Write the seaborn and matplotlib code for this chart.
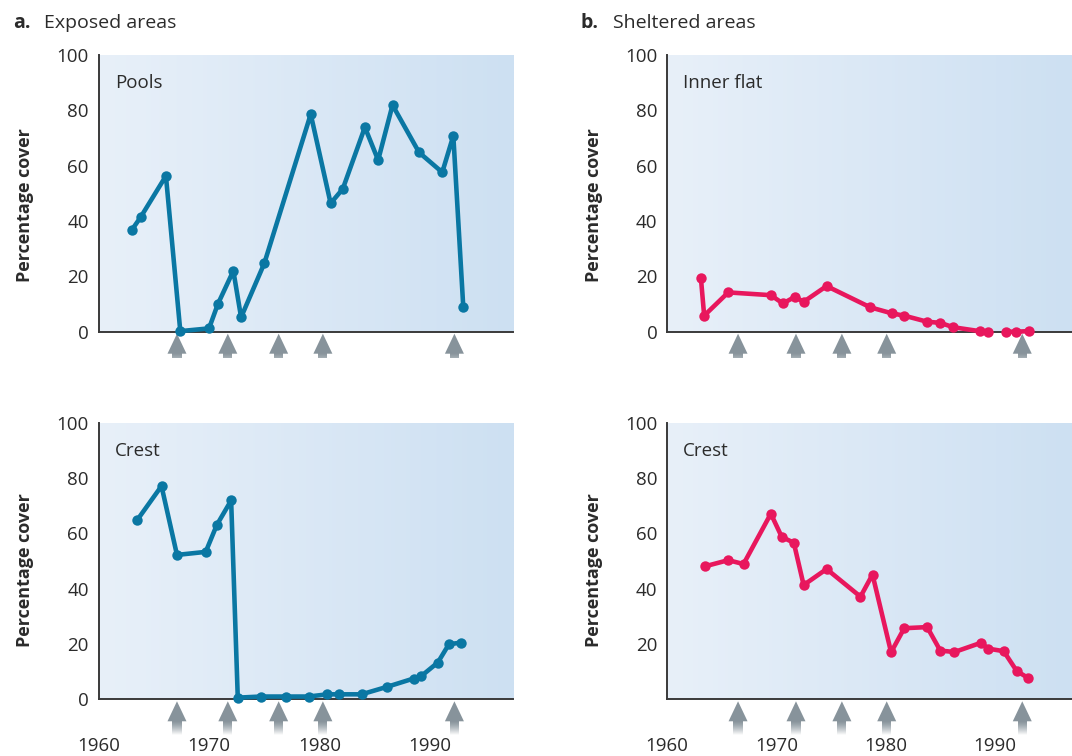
import numpy as np
import pandas as pd
import matplotlib
matplotlib.use("Agg")
import matplotlib.pyplot as plt
import matplotlib.transforms as mtransforms
import seaborn as sns

# ---------------- data ----------------
pools_years = [1963.0, 1963.8, 1966.1, 1967.4, 1970.0, 1970.8, 1972.2, 1972.9, 1975.0,
               1979.2, 1981.0, 1982.1, 1984.1, 1985.3, 1986.6, 1989.0, 1991.1, 1992.1, 1993.0]
pools_cover = [36.7, 41.3, 56.3, 0.2, 1.2, 10.0, 22.0, 5.2, 24.7,
               78.6, 46.4, 51.6, 73.9, 62.0, 81.9, 64.8, 57.6, 70.8, 9.0]

crest_a_years = [1963.5, 1965.7, 1967.1, 1969.7, 1970.7, 1972.0, 1972.6, 1974.7, 1977.0,
                 1979.0, 1980.7, 1981.8, 1983.8, 1986.1, 1988.5, 1989.2, 1990.7, 1991.7, 1992.8]
crest_a_cover = [64.8, 77.1, 52.2, 53.3, 63.0, 71.9, 0.6, 1.0, 1.0,
                 1.0, 1.8, 1.8, 1.8, 4.5, 7.5, 8.4, 13.3, 19.9, 20.5]

inner_years_1 = [1963.1, 1963.4, 1965.6, 1969.5, 1970.6, 1971.7, 1972.5, 1974.6, 1978.6,
                 1980.6, 1981.7, 1983.8, 1985.0, 1986.2, 1988.6, 1989.4]
inner_cover_1 = [19.5, 5.8, 14.2, 13.2, 10.2, 12.6, 10.8, 16.5, 8.8,
                 6.6, 5.8, 3.6, 3.2, 1.6, 0.2, 0.0]
inner_years_2 = [1991.0, 1991.9, 1993.1]
inner_cover_2 = [0.0, 0.0, 0.2]

crest_b_years = [1963.5, 1965.6, 1967.0, 1969.5, 1970.5, 1971.6, 1972.5, 1974.6, 1977.7,
                 1978.8, 1980.5, 1981.7, 1983.8, 1985.0, 1986.3, 1988.7, 1989.4, 1990.8,
                 1992.0, 1993.0]
crest_b_cover = [48.1, 50.3, 48.9, 67.1, 58.7, 56.6, 41.3, 47.1, 37.1,
                 45.1, 17.0, 25.7, 26.1, 17.6, 17.1, 20.4, 18.3, 17.4,
                 10.2, 7.8]

arrows_a = [1967.1, 1971.7, 1976.3, 1980.3, 1992.2]
arrows_b = [1966.5, 1971.8, 1976.0, 1980.1, 1992.5]

y_ticks = [0, 20, 40, 60, 80, 100]
x_ticks = [1960, 1970, 1980, 1990]

BLUE = "#0a77a3"
PINK = "#e8175d"
ARROW = "#87939b"
TEXT = "#2b2b2b"
SPINE = "#3a3a3a"

W, H = 1072, 756
sns.set_style("white")
plt.rcParams['font.family'] = ['Open Sans', 'DejaVu Sans']

fig = plt.figure(figsize=(W / 100, H / 100), dpi=100)


def px_rect(l, t, r, b):
    return [l / W, 1 - b / H, (r - l) / W, (b - t) / H]


grad = np.linspace(0, 1, 256)[None, :, None]
c_left = np.array([232, 240, 249]) / 255
c_right = np.array([205, 224, 242]) / 255
grad_img = c_left[None, None, :] * (1 - grad) + c_right[None, None, :] * grad


def style_axes(ax, xlim, show_xlabels, ylabels=None):
    ax.imshow(grad_img, extent=(0, 1, 0, 1), transform=ax.transAxes,
              aspect="auto", zorder=0, interpolation="bilinear")
    ax.set_facecolor("white")
    for s in ["top", "right"]:
        ax.spines[s].set_visible(False)
    for s in ["left", "bottom"]:
        ax.spines[s].set_color(SPINE)
        ax.spines[s].set_linewidth(1.4)
    ax.set_xlim(*xlim)
    ax.set_ylim(0, 100)
    ax.set_xticks(x_ticks)
    ax.set_yticks(y_ticks)
    if ylabels is not None:
        ax.set_yticklabels(ylabels)
    ax.tick_params(axis="both", direction="in", length=4.5, width=1.2,
                   color=SPINE, labelcolor=TEXT, labelsize=13.5)
    ax.tick_params(axis="y", pad=7)
    ax.tick_params(axis="x", pad=27, labelbottom=show_xlabels)
    ax.set_xlabel("")
    ax.set_ylabel("")


def draw_arrows(ax, years):
    fig.canvas.draw()
    bb = ax.get_window_extent()
    x0, x1 = ax.get_xlim()
    ppy = bb.width / (x1 - x0)
    hpx = bb.height
    trans = mtransforms.blended_transform_factory(ax.transData, ax.transAxes)
    tip = -2.0 / hpx
    base = -22.0 / hpx
    end = -36.0 / hpx
    hw = 9.5 / ppy
    sw = 4.6 / ppy
    arrow_rgb = np.array(matplotlib.colors.to_rgb(ARROW))
    for yr in years:
        ax.fill([yr - hw, yr + hw, yr], [base, base, tip], transform=trans,
                color=ARROW, clip_on=False, lw=0, zorder=1)
        n = 14
        edges = np.linspace(base + 0.3 / hpx, end, n + 1)
        for i in range(n):
            f = (i + 0.5) / n
            col = arrow_rgb * (1 - f ** 1.3) + np.ones(3) * f ** 1.3
            ax.fill([yr - sw, yr + sw, yr + sw, yr - sw],
                    [edges[i], edges[i], edges[i + 1] + 0.2 / hpx, edges[i + 1] + 0.2 / hpx],
                    transform=trans, color=col, clip_on=False, lw=0, zorder=1)


line_kw = dict(lw=3.3, marker="o", markersize=7.5, markeredgewidth=0,
               clip_on=False, estimator=None, sort=False, zorder=3)

# ---------------- axes ----------------
ax_a1 = fig.add_axes(px_rect(98.5, 55, 513, 331.7))
ax_a2 = fig.add_axes(px_rect(98.5, 422.7, 513, 699.3))
ax_b1 = fig.add_axes(px_rect(667, 55, 1072, 331.7))
ax_b2 = fig.add_axes(px_rect(667, 422.7, 1072, 699.3))

xlim_a = (1960, 1997.5)
xlim_b = (1960, 1997.05)

sns.lineplot(x=pools_years, y=pools_cover, ax=ax_a1, color=BLUE, **line_kw)
sns.lineplot(x=crest_a_years, y=crest_a_cover, ax=ax_a2, color=BLUE, **line_kw)
sns.lineplot(x=inner_years_1, y=inner_cover_1, ax=ax_b1, color=PINK, **line_kw)
sns.lineplot(x=inner_years_2, y=inner_cover_2, ax=ax_b1, color=PINK, **line_kw)
sns.lineplot(x=crest_b_years, y=crest_b_cover, ax=ax_b2, color=PINK, **line_kw)

style_axes(ax_a1, xlim_a, False)
style_axes(ax_a2, xlim_a, True)
style_axes(ax_b1, xlim_b, False)
style_axes(ax_b2, xlim_b, True, ylabels=["", "20", "40", "60", "80", "100"])

for ax, yrs in [(ax_a1, arrows_a), (ax_a2, arrows_a), (ax_b1, arrows_b), (ax_b2, arrows_b)]:
    draw_arrows(ax, yrs)

# panel labels
for ax, txt in [(ax_a1, "Pools"), (ax_a2, "Crest"), (ax_b1, "Inner flat"), (ax_b2, "Crest")]:
    ax.text(0.04, 0.88, txt, transform=ax.transAxes, fontsize=13.5, color=TEXT,
            ha="left", va="baseline")

# y labels
for xpx, ypx in [(25, 205), (25, 570), (594, 205), (594, 570)]:
    fig.text(xpx / W, 1 - ypx / H, "Percentage cover", rotation=90, ha="center",
             va="center", fontsize=13, fontweight="bold", color=TEXT)

# titles
fig.text(13 / W, 1 - 28.5 / H, "a.", fontsize=14, fontweight="bold", color=TEXT, va="baseline")
fig.text(44 / W, 1 - 28.5 / H, "Exposed areas", fontsize=14, color=TEXT, va="baseline")
fig.text(581 / W, 1 - 28.5 / H, "b.", fontsize=14, fontweight="bold", color=TEXT, va="baseline")
fig.text(613 / W, 1 - 28.5 / H, "Sheltered areas", fontsize=14, color=TEXT, va="baseline")

fig.savefig("out.png", dpi=100)
